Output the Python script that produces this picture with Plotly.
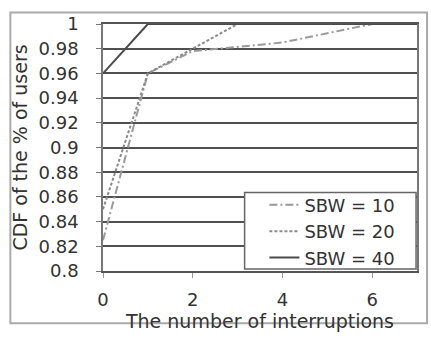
import plotly.graph_objects as go

# Data
sbw10_x = [0, 1, 2, 4, 6]
sbw10_y = [0.825, 0.96, 0.978, 0.985, 1.0]
sbw20_x = [0, 1, 3]
sbw20_y = [0.85, 0.96, 1.0]
sbw40_x = [0, 1, 7]
sbw40_y = [0.96, 1.0, 1.0]

series_names = ["SBW = 10", "SBW = 20", "SBW = 40"]
x_ticks = [0, 2, 4, 6]
y_ticks = [0.8, 0.82, 0.84, 0.86, 0.88, 0.9, 0.92, 0.94, 0.96, 0.98, 1.0]
y_ticklabels = ["0.8", "0.82", "0.84", "0.86", "0.88", "0.9", "0.92", "0.94", "0.96", "0.98", "1"]

FONT = "DejaVu Sans"
TXT = "#333333"

fig = go.Figure()
fig.add_trace(go.Scatter(x=sbw10_x, y=sbw10_y, mode="lines", name=series_names[0],
                         line=dict(color="#9a9a9a", width=2, dash="8px,3px,2px,3px")))
fig.add_trace(go.Scatter(x=sbw20_x, y=sbw20_y, mode="lines", name=series_names[1],
                         line=dict(color="#8a8a8a", width=2, dash="3px,2px")))
fig.add_trace(go.Scatter(x=sbw40_x, y=sbw40_y, mode="lines", name=series_names[2],
                         line=dict(color="#4a4a4a", width=2)))

fig.update_layout(
    width=431, height=338,
    margin=dict(l=103, r=13, t=24, b=59),
    paper_bgcolor="white", plot_bgcolor="white",
    font=dict(family=FONT, size=18, color=TXT),
    showlegend=True,
    legend=dict(x=0.514, y=0.342, xanchor="left", yanchor="top",
                bgcolor="rgba(0,0,0,0)", borderwidth=0,
                font=dict(family=FONT, size=18, color=TXT),
                tracegroupgap=0),
    xaxis=dict(range=[0, 7], tickvals=x_ticks, ticktext=[str(v) for v in x_ticks],
               showgrid=False, zeroline=False,
               showline=True, linecolor="#555555", linewidth=1.5, mirror=True,
               ticks="outside", ticklen=5, tickcolor="#999999",
               ticklabelstandoff=7,
               title=dict(text="The number of interruptions", standoff=2,
                          font=dict(family=FONT, size=19, color=TXT))),
    yaxis=dict(range=[0.8, 1.0], tickvals=y_ticks, ticktext=y_ticklabels,
               showgrid=True, gridcolor="#505050", gridwidth=2, zeroline=False,
               showline=True, linecolor="#777777", linewidth=1.5, mirror=True,
               ticks="outside", ticklen=5, tickcolor="#777777",
               ticklabelstandoff=14,
               title=dict(text="CDF of the % of users", standoff=6,
                          font=dict(family=FONT, size=19, color=TXT))),
    shapes=[
        # outer chart frame
        dict(type="rect", xref="paper", yref="paper",
             x0=-0.295, x1=1.032, y0=-0.212, y1=1.047,
             line=dict(color="#aaaaaa", width=2), fillcolor="rgba(0,0,0,0)", layer="below"),
        # legend box
        dict(type="rect", xref="paper", yref="paper",
             x0=0.451, x1=0.997, y0=0.008, y1=0.318,
             line=dict(color="#666666", width=1.5), fillcolor="white", layer="above"),
    ],
)

fig.write_html("out.html")
